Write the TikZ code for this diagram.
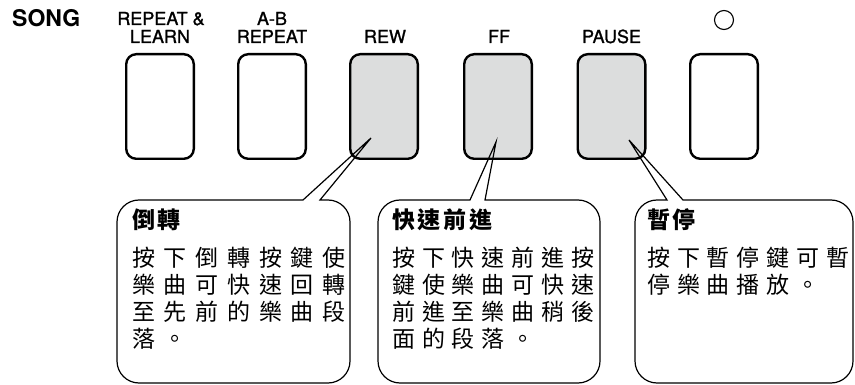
\documentclass[tikz,border=0pt]{standalone}
\usepackage{fontspec}
\setmainfont{TeX Gyre Heros}
\newfontfamily\labfont{TeX Gyre Heros}[FakeBold=1.2]
\newfontfamily\cjk{Noto Sans CJK TC}[LetterSpace=30]
\newfontfamily\cjkw{Noto Sans CJK TC}[LetterSpace=38]
\newfontfamily\cjkt{Noto Sans CJK TC}[LetterSpace=12]
\definecolor{btngray}{RGB}{220,221,221}
\newcommand\callout[5]{%
  \draw[callline] (#1,222) arc[start angle=180,end angle=270,radius=22]
    -- (#3,200) -- (#5) -- (#4,200) -- (#2-22,200)
    arc[start angle=270,end angle=360,radius=22] -- (#2,361)
    arc[start angle=0,end angle=90,radius=22] -- (#1+22,383)
    arc[start angle=90,end angle=180,radius=22] -- cycle;}
\begin{document}
\begin{tikzpicture}[x=1pt,y=-1pt,
  btn/.style={draw, line width=2.4pt, rounded corners=10pt, minimum width=67.6pt, minimum height=104.6pt, inner sep=0pt},
  lab/.style={font=\labfont\fontsize{18}{18}\selectfont, inner sep=0pt, anchor=base, align=center},
  callline/.style={line width=1.2pt, line join=miter},
  ttl/.style={font=\cjkt\bfseries\fontsize{23}{27}\selectfont, inner sep=0pt, anchor=base west},
  body/.style={font=\cjk\fontsize{23}{27}\selectfont, inner sep=0pt, anchor=base west},
  bodyw/.style={body, font=\cjkw\fontsize{23}{27}\selectfont}]
\useasboundingbox (0,0) rectangle (855,385);
% buttons
\node[btn] (bl) at (160,106.5) {};
\node[btn] (bab) at (272,106.5) {};
\node[btn, fill=btngray] (brew) at (384,106.5) {};
\node[btn, fill=btngray] (bff) at (498,106.5) {};
\node[btn, fill=btngray] (bpause) at (611.5,106.5) {};
\node[btn] (blast) at (724,106.5) {};
% labels
\node[font=\bfseries\fontsize{23}{24}\selectfont, inner sep=0pt, anchor=base west] (song) at (12,27) {SONG};
\node[lab] (l1a) at (161,25) {REPEAT \&};
\node[lab] (l1b) at (160,43) {LEARN};
\node[lab] (l2a) at (272,25) {A-B};
\node[lab] (l2b) at (272,43) {REPEAT};
\node[lab] (l3) at (385,43) {REW};
\node[lab] (l4) at (499,43) {FF};
\node[lab] (l5) at (611.5,43) {PAUSE};
\node[draw, circle, line width=1.1pt, minimum size=19pt, inner sep=0pt] (circ) at (724,20) {};
% pointer tips
\coordinate (t1) at (371,138);
\coordinate (t2) at (496,142);
\coordinate (t3) at (629,140);
% callouts
\callout{117}{350}{303}{320}{t1}
\callout{378}{600}{470}{485}{t2}
\callout{635}{853}{667}{683}{t3}
% texts
\node[ttl] (h1) at (132,229) {倒轉};
\node[bodyw] (p1a) at (132,266) {按下倒轉按鍵使};
\node[bodyw] (p1b) at (132,293) {樂曲可快速回轉};
\node[bodyw] (p1c) at (132,320) {至先前的樂曲段};
\node[bodyw] (p1d) at (132,347) {落。};
\node[ttl] (h2) at (392,229) {快速前進};
\node[body] (p2a) at (392,266) {按下快速前進按};
\node[body] (p2b) at (392,293) {鍵使樂曲可快速};
\node[body] (p2c) at (392,320) {前進至樂曲稍後};
\node[body] (p2d) at (392,347) {面的段落。};
\node[ttl] (h3) at (647,229) {暫停};
\node[body] (p3a) at (647,266) {按下暫停鍵可暫};
\node[body] (p3b) at (647,293) {停樂曲播放。};
\end{tikzpicture}
\end{document}
